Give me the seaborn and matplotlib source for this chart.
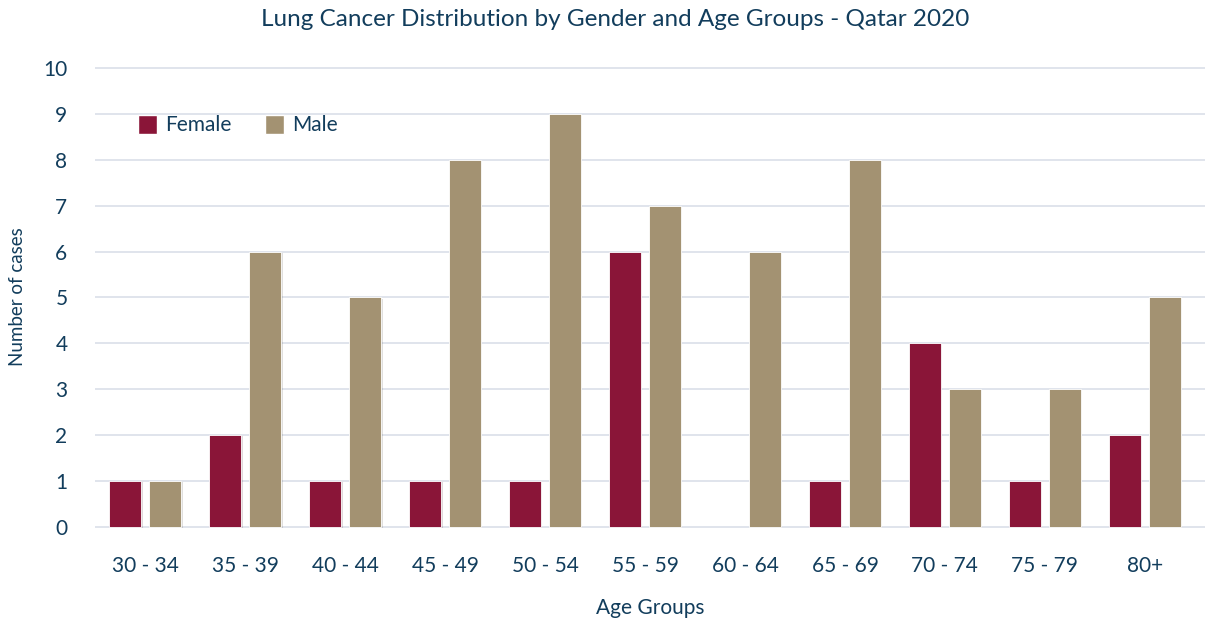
import pandas as pd
import seaborn as sns
import matplotlib.pyplot as plt
import matplotlib.patheffects as pe
from matplotlib.patches import Patch

# data
age_groups = ["30 - 34", "35 - 39", "40 - 44", "45 - 49", "50 - 54", "55 - 59",
              "60 - 64", "65 - 69", "70 - 74", "75 - 79", "80+"]
female = [1, 2, 1, 1, 1, 6, 0, 1, 4, 1, 2]
male = [1, 6, 5, 8, 9, 7, 6, 8, 3, 3, 5]

df = pd.DataFrame({
    "Age Group": age_groups * 2,
    "Cases": female + male,
    "Gender": ["Female"] * len(age_groups) + ["Male"] * len(age_groups),
})

navy = "#123d5c"
colors = {"Female": "#8a1538", "Male": "#a39272"}
sns.set_theme(style="white")
plt.rcParams["font.family"] = ["Lato", "DejaVu Sans"]

fig = plt.figure(figsize=(12.06, 6.24), dpi=100)
ax = fig.add_axes([0.079, 0.154, 0.92, 0.740])

sns.barplot(data=df, x="Age Group", y="Cases", hue="Gender", palette=colors,
            saturation=1, width=0.8, gap=0.2, order=age_groups, ax=ax,
            legend=False, zorder=3)

for bar in ax.patches:
    if bar.get_height() == 0:
        bar.set_visible(False)
    bar.set_edgecolor("white")
    bar.set_linewidth(0.6)
    bar.set_path_effects([pe.SimplePatchShadow(offset=(1, -1), alpha=0.15),
                          pe.Normal()])

ax.set_ylim(-0.03, 10.05)
ax.set_xlim(-0.5, 10.6)
ax.set_yticks(range(0, 11))
ax.yaxis.grid(True, color="#dde2ea", linewidth=1.3, zorder=0)
ax.set_axisbelow(True)
for s in ax.spines.values():
    s.set_visible(False)
ax.tick_params(axis="both", length=0, labelsize=15, labelcolor=navy)
ax.tick_params(axis="y", pad=20)
ax.tick_params(axis="x", pad=20)

ax.set_xlabel("Age Groups", fontsize=15, color=navy, labelpad=16)
ax.set_ylabel("Number of cases", fontsize=13.5, color=navy)
ax.yaxis.set_label_coords(-0.062, 0.5)
fig.suptitle("Lung Cancer Distribution by Gender and Age Groups - Qatar 2020",
             fontsize=17.5, color=navy, x=0.51, y=0.985)

handles = [Patch(facecolor=colors[g], label=g) for g in ["Female", "Male"]]
leg = ax.legend(handles=handles, loc="upper left", bbox_to_anchor=(0.022, 0.935),
                ncol=2, frameon=False, fontsize=15, handlelength=0.9,
                handleheight=1.0, columnspacing=1.6, handletextpad=0.4)
for t in leg.get_texts():
    t.set_color(navy)

plt.savefig("out.png", dpi=100)
